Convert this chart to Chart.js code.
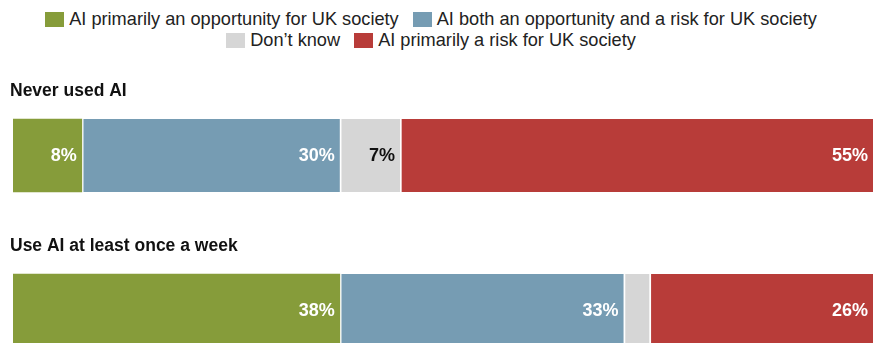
<!DOCTYPE html>
<html>
<head>
<meta charset="utf-8">
<script src="https://cdn.jsdelivr.net/npm/chart.js@4"></script>
<style>
    html, body { margin: 0; padding: 0; background: #fff; }
    body { width: 873px; height: 343px; overflow: hidden; position: relative; font-family: "Liberation Sans", Arial, sans-serif; }
    #legend {
        position: absolute; top: 9px; left: 0; width: 862px;
        display: flex; flex-wrap: wrap; justify-content: center;
        font-size: 18.2px; line-height: 21px; color: #222;
    }
    .item { display: flex; align-items: center; margin: 0 7px; white-space: nowrap; }
    .swatch { width: 19px; height: 15px; margin-right: 5px; }
    #wrap { position: absolute; top: 0; left: 0; width: 873px; height: 390px; }
</style>
</head>
<body>
<div id="legend"></div>
<div id="wrap"><canvas id="bars" width="873" height="390"></canvas></div>
<script>
    const categories = ['Never used AI', 'Use AI at least once a week'];
    const seriesNames = [
        'AI primarily an opportunity for UK society',
        'AI both an opportunity and a risk for UK society',
        'Don\u2019t know',
        'AI primarily a risk for UK society',
    ];
    const opportunity = [8, 38];
    const both = [30, 33];
    const dontKnow = [7, 3];
    const risk = [55, 26];

    const colors = ['#869c3a', '#769cb3', '#d6d6d6', '#b83c39'];
    const labelColors = ['#fff', '#fff', '#111', '#fff'];

    const series = [opportunity, both, dontKnow, risk];

    // legend as html, two centred rows
    const legend = document.getElementById('legend');
    seriesNames.forEach((name, i) => {
        const item = document.createElement('div');
        item.className = 'item';
        item.innerHTML = `<span class="swatch" style="background:${colors[i]}"></span><span>${name}</span>`;
        legend.appendChild(item);
    });

    // value labels inside the right end of each segment
    const valueLabels = {
        id: 'valueLabels',
        afterDatasetsDraw(chart) {
            const ctx = chart.ctx;
            ctx.save();
            ctx.font = 'bold 18px "Liberation Sans", Arial, sans-serif';
            ctx.textAlign = 'right';
            ctx.textBaseline = 'middle';
            chart.data.datasets.forEach((ds, di) => {
                const meta = chart.getDatasetMeta(di);
                meta.data.forEach((bar, i) => {
                    const v = ds.data[i];
                    if (v < 5) return;
                    ctx.fillStyle = labelColors[di];
                    ctx.fillText(v + '%', bar.x - 5, bar.y + 1);
                });
            });
            ctx.restore();
        }
    };

    // group headings above each bar
    const groupTitles = {
        id: 'groupTitles',
        afterDraw(chart) {
            const ctx = chart.ctx;
            const yScale = chart.scales.y;
            ctx.save();
            ctx.font = 'bold 17.5px "Liberation Sans", Arial, sans-serif';
            ctx.fillStyle = '#111';
            ctx.textAlign = 'left';
            ctx.textBaseline = 'middle';
            categories.forEach((c, i) => {
                ctx.fillText(c, 10, yScale.getPixelForValue(i) - 64);
            });
            ctx.restore();
        }
    };

    new Chart(document.getElementById('bars').getContext('2d'), {
        type: 'bar',
        data: {
            labels: categories,
            datasets: series.map((values, i) => ({
                label: seriesNames[i],
                data: values,
                backgroundColor: colors[i],
                borderColor: '#fff',
                borderWidth: i === 0 ? 0 : { left: 2, right: 0, top: 0, bottom: 0 },
                borderSkipped: false,
                barThickness: 73,
            })),
        },
        options: {
            indexAxis: 'y',
            responsive: false,
            animation: false,
            layout: { padding: { top: 78, left: 13, right: 0, bottom: 2 } },
            scales: {
                x: { stacked: true, min: 0, max: 100, display: false },
                y: { stacked: true, display: false },
            },
            plugins: {
                legend: { display: false },
                tooltip: { enabled: false },
            },
        },
        plugins: [valueLabels, groupTitles],
    });
</script>
</body>
</html>
